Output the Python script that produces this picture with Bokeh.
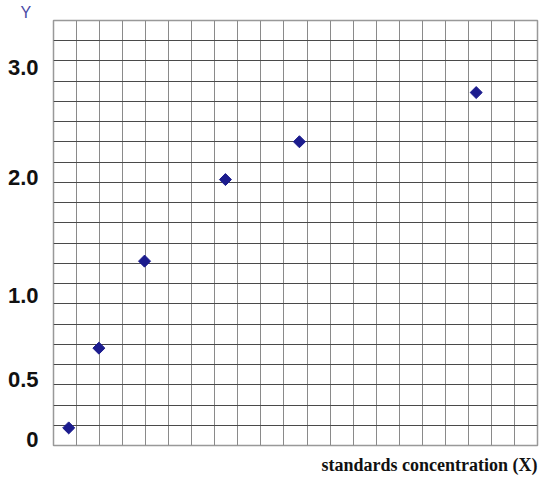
import math
from bokeh.plotting import figure
from bokeh.models import FixedTicker, Title, Range1d
from bokeh.embed import file_html
from bokeh.resources import INLINE

# data (in grid units of the paper)
conc_x = [0.66, 1.97, 3.95, 7.46, 10.67, 18.34]
resp_y = [0.87, 4.81, 9.11, 13.14, 15.01, 17.44]
y_tick_pos = [0.32, 3.26, 7.41, 13.24, 18.68]
y_tick_labels = ["0", "0.5", "1.0", "2.0", "3.0"]
n_cols = 21
n_rows = 21

p = figure(width=543, height=481, output_backend="svg", toolbar_location=None,
           x_range=Range1d(0, n_cols), y_range=Range1d(0, n_rows),
           min_border_left=53, min_border_right=6, min_border_top=20, min_border_bottom=36)
p.background_fill_color = "white"
p.border_fill_color = "white"
p.outline_line_color = "#999999"
p.outline_line_width = 1.5

p.title.text = "Y"
p.title.align = "left"
p.title.offset = -33
p.title.standoff = 0
p.title.text_font = "Liberation Sans"
p.title.text_font_style = "normal"
p.title.text_font_size = "16px"
p.title.text_color = "#4b4ba6"

p.xaxis.visible = False
p.yaxis.ticker = FixedTicker(ticks=y_tick_pos)
p.yaxis.major_label_overrides = {t: l for t, l in zip(y_tick_pos, y_tick_labels)}
p.yaxis.axis_line_color = None
p.yaxis.major_tick_line_color = None
p.yaxis.minor_tick_line_color = None
p.yaxis.major_tick_out = 0
p.yaxis.major_label_standoff = 15
p.yaxis.major_label_text_font = "Liberation Sans"
p.yaxis.major_label_text_font_style = "bold"
p.yaxis.major_label_text_font_size = "22px"
p.yaxis.major_label_text_color = "#111111"

p.xgrid.ticker = FixedTicker(ticks=list(range(n_cols + 1)))
p.ygrid.ticker = FixedTicker(ticks=list(range(n_rows + 1)))
p.xgrid.grid_line_color = "#8a8a8a"
p.ygrid.grid_line_color = "#4a4a4a"
p.xgrid.grid_line_width = 1
p.ygrid.grid_line_width = 1

p.scatter(conc_x, resp_y, marker="square", angle=math.pi / 4, size=8.5,
          fill_color="#1c1c8e", line_color="#1c1c8e")

xt = Title(text="standards concentration (X)", align="right",
           text_font="Liberation Serif", text_font_style="bold",
           text_font_size="18px", text_color="#111111", standoff=14, offset=0)
p.add_layout(xt, "below")

open("out.html", "w").write(file_html(p, INLINE))
